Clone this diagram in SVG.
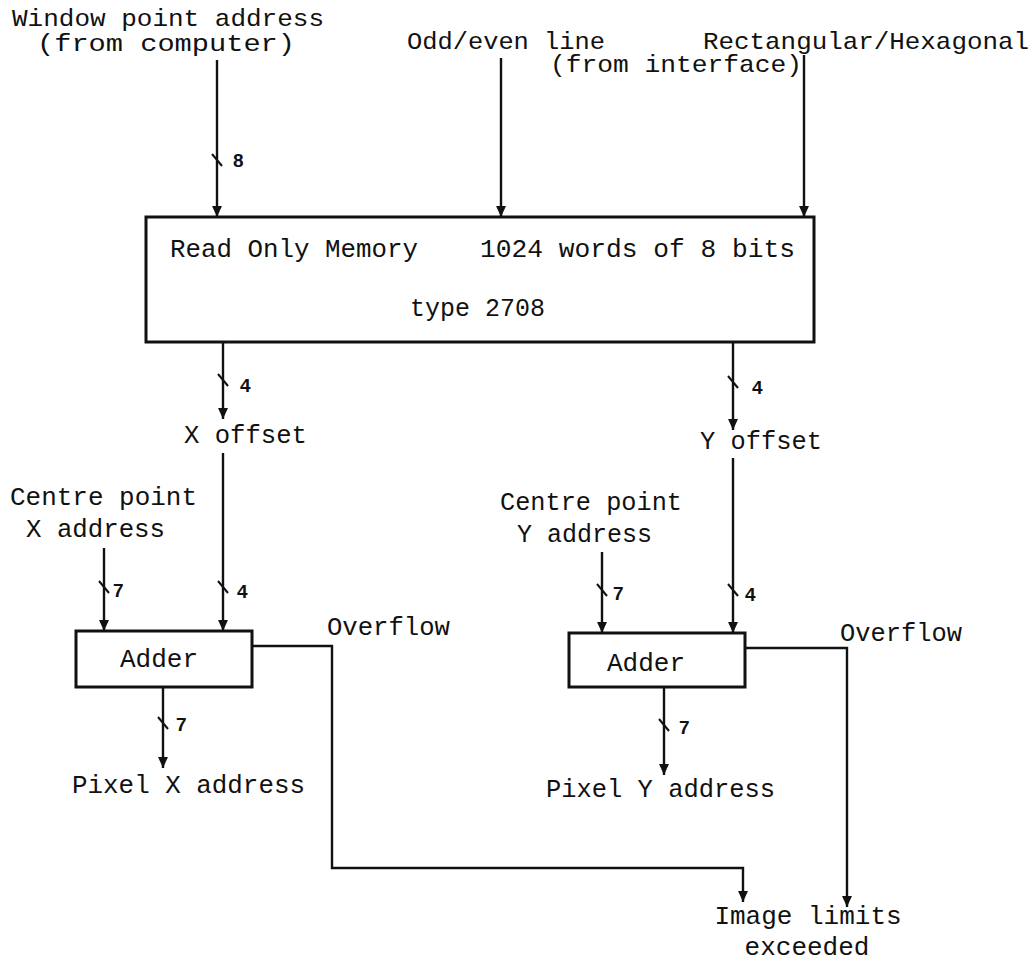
<svg xmlns="http://www.w3.org/2000/svg" width="1033" height="963" viewBox="0 0 1033 963">
<defs>
<style>
.t{font-family:"Liberation Mono","DejaVu Sans Mono",monospace;font-size:26px;fill:#111}
.s{font-family:"Liberation Mono","DejaVu Sans Mono",monospace;font-size:24px;fill:#111}
.n{font-family:"Liberation Sans","DejaVu Sans",sans-serif;font-size:19px;font-weight:bold;fill:#111}
.w{fill:none;stroke:#111;stroke-width:2.4}
.bus{fill:none;stroke:#111;stroke-width:2}
.box{fill:#fff;stroke:#111;stroke-width:3}
</style>
<marker id="ah" viewBox="0 0 10 10" refX="10" refY="5" markerWidth="11" markerHeight="11" markerUnits="userSpaceOnUse" orient="auto">
<path d="M0,0.5 L10,5 L0,9.5 z" fill="#111"/>
</marker>
</defs>
<rect width="1033" height="963" fill="#fff"/>

<g id="in-window">
<text class="s" x="12" y="26" textLength="312" lengthAdjust="spacingAndGlyphs">Window point address</text>
<text class="s" x="37" y="51" textLength="258" lengthAdjust="spacingAndGlyphs">(from computer)</text>
</g>
<g id="in-oddeven">
<text class="s" x="407" y="49" textLength="198" lengthAdjust="spacingAndGlyphs">Odd/even line</text>
<text class="s" x="550" y="72" textLength="252" lengthAdjust="spacingAndGlyphs">(from interface)</text>
</g>
<g id="in-recthex">
<text class="s" x="703" y="49" textLength="326" lengthAdjust="spacingAndGlyphs">Rectangular/Hexagonal</text>
</g>

<g id="rom">
<rect class="box" x="146" y="217" width="668" height="125"/>
<text class="t" x="170" y="257" textLength="248" lengthAdjust="spacingAndGlyphs">Read Only Memory</text>
<text class="t" x="480" y="257" textLength="315" lengthAdjust="spacingAndGlyphs">1024 words of 8 bits</text>
<text class="t" x="410" y="316" textLength="135" lengthAdjust="spacingAndGlyphs">type 2708</text>
</g>

<g id="x-offset">
<text class="t" x="184" y="443" textLength="123" lengthAdjust="spacingAndGlyphs">X offset</text>
</g>
<g id="y-offset">
<text class="t" x="700" y="449" textLength="122" lengthAdjust="spacingAndGlyphs">Y offset</text>
</g>

<g id="centre-x">
<text class="t" x="10" y="505" textLength="187" lengthAdjust="spacingAndGlyphs">Centre point</text>
<text class="t" x="26" y="537" textLength="139" lengthAdjust="spacingAndGlyphs">X address</text>
</g>
<g id="centre-y">
<text class="t" x="500" y="510" textLength="182" lengthAdjust="spacingAndGlyphs">Centre point</text>
<text class="t" x="517" y="542" textLength="135" lengthAdjust="spacingAndGlyphs">Y address</text>
</g>

<g id="adder-x">
<rect class="box" x="76" y="631" width="176" height="56"/>
<text class="t" x="159" y="667" text-anchor="middle">Adder</text>
</g>
<g id="adder-y">
<rect class="box" x="569" y="633" width="176" height="54"/>
<text class="t" x="646" y="671" text-anchor="middle">Adder</text>
</g>

<g id="pixel-x">
<text class="t" x="72" y="793" textLength="233" lengthAdjust="spacingAndGlyphs">Pixel X address</text>
</g>
<g id="pixel-y">
<text class="t" x="546" y="797" textLength="229" lengthAdjust="spacingAndGlyphs">Pixel Y address</text>
</g>

<g id="image-limits">
<text class="t" x="808" y="924" text-anchor="middle">Image limits</text>
<text class="t" x="807" y="955" text-anchor="middle">exceeded</text>
</g>

<g id="connectors">
<path class="w" d="M217,60 V217" marker-end="url(#ah)"/>
<path class="w" d="M501,58 V217" marker-end="url(#ah)"/>
<path class="w" d="M804,55 V217" marker-end="url(#ah)"/>
<path class="w" d="M223,342 V419" marker-end="url(#ah)"/>
<path class="w" d="M733,342 V430" marker-end="url(#ah)"/>
<path class="w" d="M223,453 V631" marker-end="url(#ah)"/>
<path class="w" d="M733,458 V633" marker-end="url(#ah)"/>
<path class="w" d="M104,548 V631" marker-end="url(#ah)"/>
<path class="w" d="M602,552 V633" marker-end="url(#ah)"/>
<path class="w" d="M163,687 V768" marker-end="url(#ah)"/>
<path class="w" d="M664,687 V775" marker-end="url(#ah)"/>
<path class="w" d="M252,646 H332 V868 H743 V902" marker-end="url(#ah)"/>
<path class="w" d="M745,648 H847 V907" marker-end="url(#ah)"/>

<text class="t" x="327" y="635" textLength="123" lengthAdjust="spacingAndGlyphs">Overflow</text>
<text class="t" x="840" y="641" textLength="122" lengthAdjust="spacingAndGlyphs">Overflow</text>

<path class="bus" d="M212,154 L222,166"/>
<path class="bus" d="M218,374 L228,386"/>
<path class="bus" d="M728,376 L738,388"/>
<path class="bus" d="M218,581 L228,593"/>
<path class="bus" d="M728,584 L738,596"/>
<path class="bus" d="M99,581 L109,593"/>
<path class="bus" d="M597,584 L607,596"/>
<path class="bus" d="M158,717 L168,729"/>
<path class="bus" d="M659,719 L669,731"/>

<text class="n" x="233" y="167">8</text>
<text class="n" x="240" y="392">4</text>
<text class="n" x="752" y="394">4</text>
<text class="n" x="237" y="598">4</text>
<text class="n" x="745" y="601">4</text>
<text class="n" x="113" y="597">7</text>
<text class="n" x="613" y="600">7</text>
<text class="n" x="176" y="731">7</text>
<text class="n" x="679" y="734">7</text>
</g>
</svg>
